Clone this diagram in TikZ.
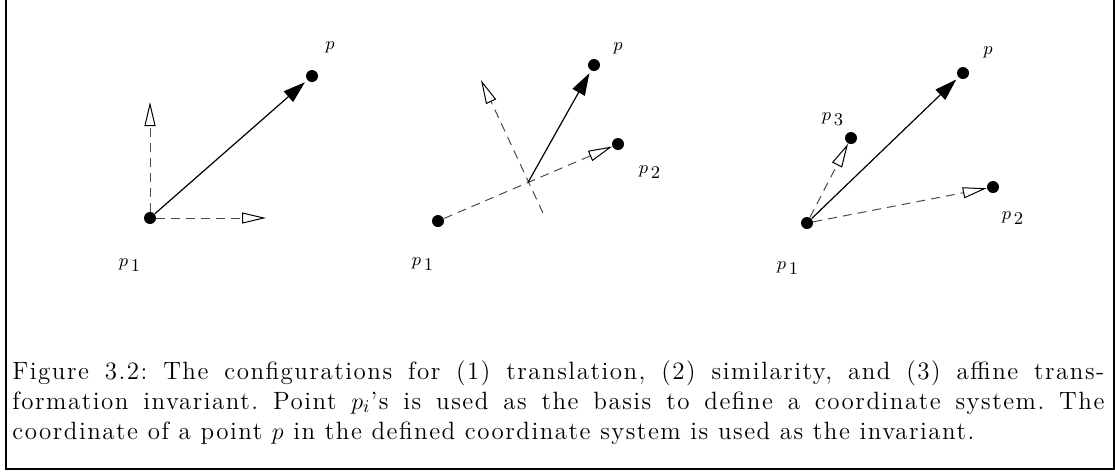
\documentclass[tikz,border=0pt]{standalone}
\usepackage{fontspec}
\usetikzlibrary{calc}
\usetikzlibrary{arrows.meta}

\newfontfamily\capfont{Latin Modern Roman}[LetterSpace=6, Ligatures=TeX]
\newcommand{\ptlab}[1]{$p_{\,\textstyle #1}$}

\begin{document}
\begin{tikzpicture}[
    x=0.5pt, y=-0.5pt,
    >={Triangle[length=11pt, width=7pt]},
    pt/.style={circle, fill=black, minimum size=6pt, inner sep=0pt},
    ptlabel/.style={font=\fontsize{9}{10}\selectfont, inner sep=0pt},
    vecarrow/.style={->, line width=0.6pt, shorten >=1.5pt},
    basis/.style={-{Triangle[open, length=12pt, width=5.5pt, color=black]},
                  line width=0.5pt, black!70, dash pattern=on 4.5pt off 3pt},
    frame/.style={line width=1pt},
    caption/.style={text width=546pt, align=justify, inner sep=0pt,
                    anchor=north west,
                    font=\capfont\fontsize{12.5}{15}\selectfont\frenchspacing},
]
\useasboundingbox (0,0) rectangle (1115,473);

% ── Frame (open at the top) ──
\draw[frame] (6,0) -- (6,469) -- (1113.5,469) -- (1113.5,0);

% ══════════════════════════════════════════════════════════════
% (1) translation
% ══════════════════════════════════════════════════════════════
\node[pt] (a-1) at (150,218) {};
\node[pt] (a-p) at (312,76) {};
\coordinate (a-x) at (266,218);
\coordinate (a-y) at (150,102);
\draw[basis] (a-1) -- (a-x);
\draw[basis] (a-1) -- (a-y);
\draw[vecarrow] (a-1) -- (a-p);
\node[ptlabel] (la-p) at (330,47) {$p$};
\node[ptlabel] (la-1) at (130,265) {\ptlab{1}};

% ══════════════════════════════════════════════════════════════
% (2) similarity
% ══════════════════════════════════════════════════════════════
\node[pt] (b-1) at (438,221) {};
\node[pt] (b-2) at (618,144) {};
\node[pt] (b-p) at (594,65) {};
\coordinate (b-m) at ($(b-1)!0.5!(b-2)$);
\coordinate (b-lo) at (543,213);
\coordinate (b-hi) at (481,80);
\draw[basis] (b-1) -- (b-2);
\draw[basis] (b-lo) -- (b-hi);
\draw[vecarrow] (b-m) -- (b-p);
\node[ptlabel] (lb-p) at (618,48) {$p$};
\node[ptlabel] (lb-2) at (650,172) {\ptlab{2}};
\node[ptlabel] (lb-1) at (423,264) {\ptlab{1}};

% ══════════════════════════════════════════════════════════════
% (3) affine
% ══════════════════════════════════════════════════════════════
\node[pt] (c-1) at (807,223) {};
\node[pt] (c-2) at (993,187) {};
\node[pt] (c-3) at (851,138) {};
\node[pt] (c-p) at (963,73) {};
\draw[basis] (c-1) -- (c-2);
\draw[basis] (c-1) -- (c-3);
\draw[vecarrow] (c-1) -- (c-p);
\node[ptlabel] (lc-p) at (988,52) {$p$};
\node[ptlabel] (lc-3) at (833,119) {\ptlab{3}};
\node[ptlabel] (lc-2) at (1013,218) {\ptlab{2}};
\node[ptlabel] (lc-1) at (788,268) {\ptlab{1}};

% ── Caption ──
\node[caption] (cap) at (12,360) {Figure 3.2: The configurations for (1) translation,
    (2) similarity, and (3) affine trans-\linebreak formation invariant. Point $p_i$'s
    is used as the basis to define a coordinate system. The\linebreak coordinate of a
    point $p$ in the defined coordinate system is used as the invariant.};

\end{tikzpicture}
\end{document}
